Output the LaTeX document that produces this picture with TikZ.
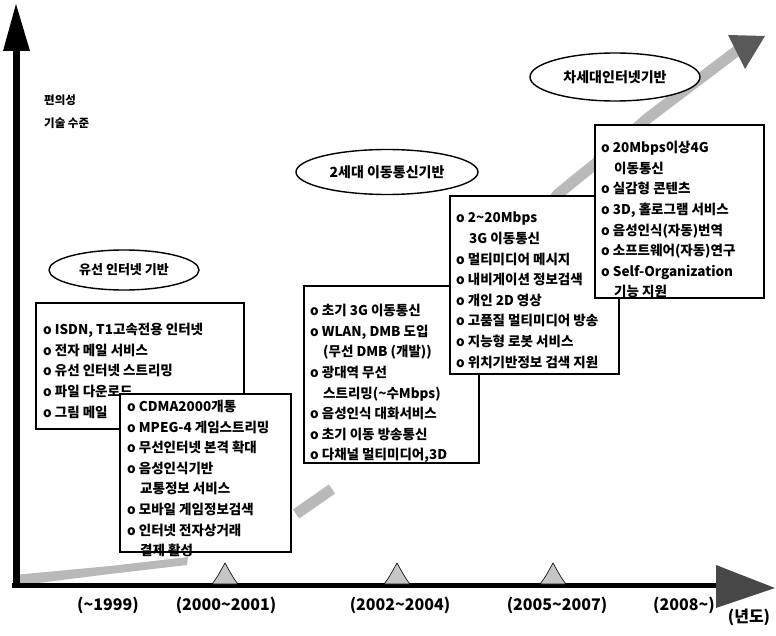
\documentclass[tikz,border=0pt]{standalone}
\usepackage{fontspec}
\setmainfont{Noto Sans CJK KR}[BoldFont={Noto Sans CJK KR Black}]
\usetikzlibrary{shapes.geometric,calc}
\begin{document}
\begin{tikzpicture}[x=1pt,y=-1pt,
  box/.style={draw=black,line width=1.7pt,fill=white,anchor=north west,inner sep=0pt},
  txt/.style={anchor=north west,align=left,inner sep=0pt,font=\fontsize{13.5}{20.6}\selectfont\bfseries},
  era/.style={ellipse,draw=black,line width=1.4pt,fill=white,inner sep=0pt,font=\fontsize{13}{15}\selectfont\bfseries},
  cone/.style={draw=black,line width=0.6pt,fill=gray!45},
  yr/.style={font=\fontsize{16}{18}\selectfont\bfseries,inner sep=0pt},
  ylab/.style={anchor=west,inner sep=0pt,font=\fontsize{11.5}{13}\selectfont\bfseries},
  band/.style={draw=gray!55,line width=11pt},
]
\useasboundingbox (0,0) rectangle (776,636);

% gray rising band (behind everything)
\fill[gray!55] (14,586) -- (14,575) -- (110,566) -- (188,557) -- (187,565) -- (110,574) -- cycle;
\coordinate (s0) at (296,514);
\coordinate (s1) at (332,489);
\coordinate (s1b) at (420,375);
\coordinate (s2) at (558,194);
\coordinate (s3) at (600,160);
\coordinate (s4) at (648,118);
\coordinate (s5) at (738,50);
\draw[band] (s0) -- (s1);
\draw[band] (s1b) -- (s2) -- (s3) -- (s4) -- (s5);
\fill[black!65] (728,35) -- (765,36) -- (745,69) -- cycle;

% boxes
\node[box,minimum width=208pt,minimum height=126pt] (b1) at (35,302) {};
\node[txt] (t1) at (43,323) {o ISDN, T1고속전용 인터넷\\o 전자 메일 서비스\\o 유선 인터넷 스트리밍\\o 파일 다운로드\\o 그림 메일};

\node[box,minimum width=171pt,minimum height=158pt] (b2) at (119,393) {};
\node[txt] (t2) at (127,400) {o CDMA2000개통\\o MPEG-4 게임스트리밍\\o 무선인터넷 본격 확대\\o 음성인식기반\\\hspace*{13pt}교통정보 서비스\\o 모바일 게임정보검색\\o 인터넷 전자상거래\\\hspace*{13pt}결제 활성};

\node[box,minimum width=175pt,minimum height=177pt] (b3) at (303,285) {};
\node[txt] (t3) at (310,304) {o 초기 3G 이동통신\\o WLAN, DMB 도입\\\hspace*{13pt}(무선 DMB (개발))\\o 광대역 무선\\\hspace*{13pt}스트리밍(\textasciitilde 수Mbps)\\o 음성인식 대화서비스\\o 초기 이동 방송통신\\o 다채널 멀티미디어,3D};

\node[box,minimum width=169pt,minimum height=178pt] (b4) at (449,195) {};
\node[txt] (t4) at (456,212) {o 2\textasciitilde 20Mbps\\\hspace*{13pt}3G 이동통신\\o 멀티미디어 메시지\\o 내비게이션 정보검색\\o 개인 2D 영상\\o 고품질 멀티미디어 방송\\o 지능형 로봇 서비스\\o 위치기반정보 검색 지원};

\node[box,minimum width=169pt,minimum height=173pt] (b5) at (594,124) {};
\node[txt] (t5) at (601,141) {o 20Mbps이상4G\\\hspace*{13pt}이동통신\\o 실감형 콘텐츠\\o 3D, 홀로그램 서비스\\o 음성인식(자동)번역\\o 소프트웨어(자동)연구\\o Self-Organization\\\hspace*{13pt}기능 지원};

% era ellipses
\node[era,minimum width=150pt,minimum height=40pt] (e1) at (124,270) {유선 인터넷 기반};
\node[era,minimum width=182pt,minimum height=45pt,font=\fontsize{14}{16}\selectfont\bfseries] (e2) at (387,172) {2세대 이동통신기반};
\node[era,minimum width=170pt,minimum height=48pt,font=\fontsize{14}{16}\selectfont\bfseries] (e3) at (615,77) {차세대인터넷기반};

% axes
\coordinate (O) at (16,585);
\coordinate (ytop) at (16,48);
\coordinate (xend) at (718,585);
\draw[line width=7pt] (O) -- (ytop);
\fill[black] (3,51) -- (16,4) -- (30,51) -- cycle;
\draw[line width=5pt] (12,585) -- (xend);
\fill[black!72] (716,565) -- (775,588) -- (716,608) -- cycle;

% cones on the time axis
\foreach \cx/\nm in {225/c1,397/c2,553/c3}{
  \draw[cone] (\cx-13,584) .. controls (\cx-8,578) and (\cx-4,570) .. (\cx,563)
     .. controls (\cx+4,570) and (\cx+8,578) .. (\cx+13,584) -- cycle;
  \coordinate (\nm) at (\cx,563);
}

% y axis label
\node[ylab] (yl1) at (44,100) {편의성};
\node[ylab] (yl2) at (44,123) {기술 수준};

% year labels
\node[yr] (y1) at (108,605) {(\textasciitilde 1999)};
\node[yr] (y2) at (226,605) {(2000\textasciitilde 2001)};
\node[yr] (y3) at (400,605) {(2002\textasciitilde 2004)};
\node[yr] (y4) at (557,605) {(2005\textasciitilde 2007)};
\node[yr] (y5) at (684,605) {(2008\textasciitilde )};
\node[yr] (y6) at (749,617) {(년도)};
\end{tikzpicture}
\end{document}
